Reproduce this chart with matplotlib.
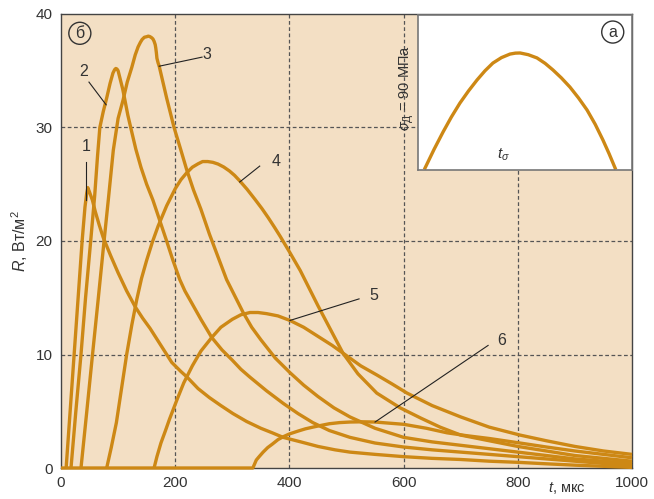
import matplotlib
matplotlib.use("Agg")
import matplotlib.pyplot as plt
from matplotlib.transforms import blended_transform_factory

plt.rcParams['font.family'] = ['Liberation Sans', 'DejaVu Sans']
plt.rcParams['mathtext.fontset'] = 'custom'
plt.rcParams['mathtext.rm'] = 'Liberation Sans'
plt.rcParams['mathtext.it'] = 'Liberation Sans:italic'
plt.rcParams['mathtext.bf'] = 'Liberation Sans:bold'

# ---------------- data (t, мкс ; R, Вт/м^2) ----------------
t1 = [9, 16, 23, 30, 37, 42, 45, 47, 50, 55, 60, 67, 74, 87, 100, 115, 130, 143, 156, 175,
      194, 210, 221, 240, 260, 280, 301, 325, 350, 370, 389, 420, 450, 480, 506, 550, 600,
      650, 700, 750, 800, 850, 900, 950, 1000]
r1 = [0, 5, 10, 15, 20, 23, 24.2, 24.7, 24.3, 23.6, 22.6, 21.4, 20.3, 18.7, 17.2, 15.6, 14.2,
      13.2, 12.3, 10.8, 9.3, 8.5, 8.0, 7.0, 6.2, 5.5, 4.8, 4.1, 3.5, 3.1, 2.7, 2.3, 1.9, 1.6,
      1.4, 1.2, 1.0, 0.85, 0.75, 0.6, 0.5, 0.37, 0.25, 0.15, 0.05]

t2 = [17.5, 26, 35, 43, 52, 59, 64, 68, 74, 80, 86, 91, 94, 96, 98, 100, 103, 108, 112, 117,
      123, 131, 140, 150, 161, 173, 185, 196, 208, 217, 226, 245, 264, 282, 300, 315, 331,
      360, 389, 415, 441, 470, 506, 550, 600, 650, 700, 750, 800, 850, 900, 950, 1000]
r2 = [0, 5, 10, 15, 20, 24, 27.5, 30, 31.4, 32.6, 33.9, 34.8, 35.1, 35.2, 35.15, 35.0, 34.4,
      33.4, 32.4, 31.1, 29.8, 28.1, 26.5, 25.0, 23.6, 21.8, 20.0, 18.3, 16.6, 15.6, 14.8,
      13.1, 11.5, 10.4, 9.5, 8.7, 8.0, 6.8, 5.7, 4.8, 4.0, 3.3, 2.7, 2.2, 1.85, 1.6, 1.4,
      1.2, 1.0, 0.8, 0.6, 0.4, 0.2]

t3 = [35, 45, 55, 65, 75, 83, 91.6, 100, 108.6, 116, 124, 130, 135, 139, 142, 146, 150, 153,
      156, 159, 161, 163, 165, 166, 167, 168, 170, 172, 185, 198, 210, 220, 232, 245, 260,
      275, 290, 308, 319, 334, 350, 375, 401, 425, 450, 478, 506, 550, 600, 650, 700, 750,
      800, 850, 900, 950, 1000]
r3 = [0, 4.9, 9.9, 14.8, 19.8, 23.7, 28, 30.8, 32.4, 34.0, 35.3, 36.4, 37.1, 37.5, 37.75,
      37.95, 38.0, 38.05, 38.0, 37.9, 37.8, 37.6, 37.3, 37.0, 36.6, 36.1, 35.7, 35.4, 32.6,
      30.0, 28.0, 26.3, 24.5, 22.8, 20.6, 18.6, 16.6, 14.8, 13.7, 12.4, 11.3, 9.7, 8.4, 7.3,
      6.3, 5.3, 4.5, 3.5, 2.7, 2.3, 2.0, 1.7, 1.4, 1.1, 0.8, 0.6, 0.4]

t4 = [80, 88, 97, 106, 115, 124, 132.5, 141, 150, 160, 170, 185, 200, 210, 220, 230, 240,
      248, 257, 266, 275, 285, 295, 304, 313, 326, 340, 352, 363, 374, 384, 400, 419, 435,
      450, 472, 494, 520, 553, 575, 594, 630, 664, 700, 750, 800, 850, 900, 950, 1000]
r4 = [0, 1.8, 4, 7, 10, 12.6, 14.8, 16.7, 18.3, 19.9, 21.3, 23.1, 24.6, 25.4, 26.0, 26.5,
      26.8, 27.0, 27.0, 26.93, 26.78, 26.52, 26.17, 25.78, 25.3, 24.55, 23.65, 22.85, 22.05,
      21.2, 20.4, 19.05, 17.4, 15.8, 14.3, 12.2, 10.1, 8.3, 6.6, 5.9, 5.3, 4.4, 3.6, 2.9,
      2.4, 1.9, 1.5, 1.1, 0.85, 0.6]

t5 = [163, 168, 175, 183, 190, 203, 215, 230, 245, 264, 280, 300, 315, 331, 345, 360, 380,
      401, 425, 450, 475, 500, 525, 553, 580, 606, 650, 700, 750, 804, 850, 900, 950, 1000]
r5 = [0, 1.0, 2.2, 3.3, 4.3, 6.0, 7.5, 9.0, 10.3, 11.5, 12.4, 13.1, 13.5, 13.7, 13.7, 13.6,
      13.4, 13.0, 12.4, 11.6, 10.8, 9.9, 9.0, 8.2, 7.4, 6.6, 5.5, 4.5, 3.6, 2.9, 2.4, 1.9,
      1.5, 1.2]

t6 = [0, 336, 339, 342, 347, 354, 362, 370, 380, 389, 400, 415, 428, 441, 455, 470, 488,
      506, 528, 550, 575, 600, 640, 676, 710, 750, 804, 850, 900, 950, 1000]
r6 = [0, 0, 0.35, 0.7, 1.0, 1.4, 1.8, 2.1, 2.5, 2.75, 3.0, 3.25, 3.45, 3.6, 3.75, 3.9, 4.0,
      4.05, 4.07, 4.05, 3.95, 3.85, 3.5, 3.1, 2.85, 2.6, 2.2, 1.85, 1.5, 1.2, 0.9]

curves = [(t1, r1), (t2, r2), (t3, r3), (t4, r4), (t5, r5), (t6, r6)]

# curve labels: text position and leader line (from, to) in data units
label_texts = ['1', '2', '3', '4', '5', '6']
label_pos = [(44, 28.3), (39, 34.9), (255, 36.4), (376, 27.0), (547, 15.2), (772, 11.2)]
leader_from = [(44, 27.0), (49, 34.0), (247, 36.2), (348, 26.6), (522, 14.9), (748, 10.8)]
leader_to = [(44, 23.6), (79, 32.0), (172, 35.4), (313, 25.2), (401, 13.0), (550, 4.05)]

xticks = [0, 200, 400, 600, 800, 1000]
yticks = [0, 10, 20, 30, 40]

# inset (schematic stress pulse), arbitrary units 0..100
ins_x = [3.3, 7.5, 11.7, 15.6, 19.6, 23.6, 27.6, 31.3, 35.0, 39.0, 43.0, 45.5, 47.7, 51.5,
         55.6, 59.4, 63.1, 67.0, 71.0, 75.0, 79.0, 82.8, 86.4, 89.3, 92.1]
ins_y = [1.3, 13.3, 24.5, 34.2, 43.2, 51.0, 58.1, 64.0, 69.0, 72.5, 74.8, 75.4, 75.5, 74.4,
         72.3, 68.8, 64.5, 59.4, 53.5, 46.5, 38.7, 29.5, 19.4, 10.5, 1.3]

# ---------------- style ----------------
curve_color = '#CD8815'
bg_color = '#F3DFC4'
text_color = '#333333'

fig = plt.figure(figsize=(6.54, 4.99), dpi=100)
ax = fig.add_axes([61/654, 1-468/499, 571/654, 454/499])
ax.set_facecolor(bg_color)
ax.set_xlim(0, 1000)
ax.set_ylim(0, 40)

for x in [200, 400, 600, 800]:
    ax.axvline(x, color='#555555', lw=0.9, ls=(0, (3, 2)), zorder=1)
for y in [10, 20, 30]:
    ax.axhline(y, color='#555555', lw=0.9, ls=(0, (3, 2)), zorder=1)

for t, r in curves:
    ax.plot(t, r, color=curve_color, lw=2.4, zorder=3, clip_on=False,
            solid_joinstyle='round', solid_capstyle='butt')

for txt, p, a, b in zip(label_texts, label_pos, leader_from, leader_to):
    ax.text(p[0], p[1], txt, fontsize=11.5, color=text_color, ha='center', va='center', zorder=5)
    ax.plot([a[0], b[0]], [a[1], b[1]], color='#222222', lw=0.8, zorder=4)

ax.set_xticks(xticks)
ax.set_yticks(yticks)
ax.tick_params(length=0, labelsize=11, colors=text_color, pad=6)
for s in ax.spines.values():
    s.set_color('#444444')
    s.set_linewidth(1.0)

ax.set_ylabel(r'$R$, Вт/м$^{2}$', fontsize=11.5, color=text_color, labelpad=4)
trans = blended_transform_factory(ax.transData, ax.transAxes)
ax.text(886, -0.045, r'$t$, мкс', transform=trans, fontsize=10.5, color=text_color,
        ha='center', va='center')

ax.text(33, 38.3, 'б', fontsize=11.5, color=text_color, ha='center', va='center',
        bbox=dict(boxstyle='circle,pad=0.22', fc='none', ec='#333333', lw=1.0), zorder=6)

# inset
iax = fig.add_axes([418/654, 1-170/499, 214/654, 155/499], zorder=10)
iax.set_facecolor('white')
iax.set_xlim(0, 100)
iax.set_ylim(0, 100)
iax.set_xticks([])
iax.set_yticks([])
for s in iax.spines.values():
    s.set_color('#777777')
    s.set_linewidth(1.2)
iax.plot(ins_x, ins_y, color=curve_color, lw=2.4, solid_joinstyle='round')
iax.text(40, 9.5, r'$t_{\sigma}$', fontsize=11, color=text_color, ha='center', va='center')
iax.text(91, 89, 'а', fontsize=11.5, color=text_color, ha='center', va='center',
         bbox=dict(boxstyle='circle,pad=0.22', fc='none', ec='#333333', lw=1.0))

fig.text(407/654, 1-88/499, r'$\sigma_{\mathrm{Д}}$ = 90 МПа', rotation=90, fontsize=10.5,
         color=text_color, ha='center', va='center')

fig.savefig('out.png', dpi=100)
